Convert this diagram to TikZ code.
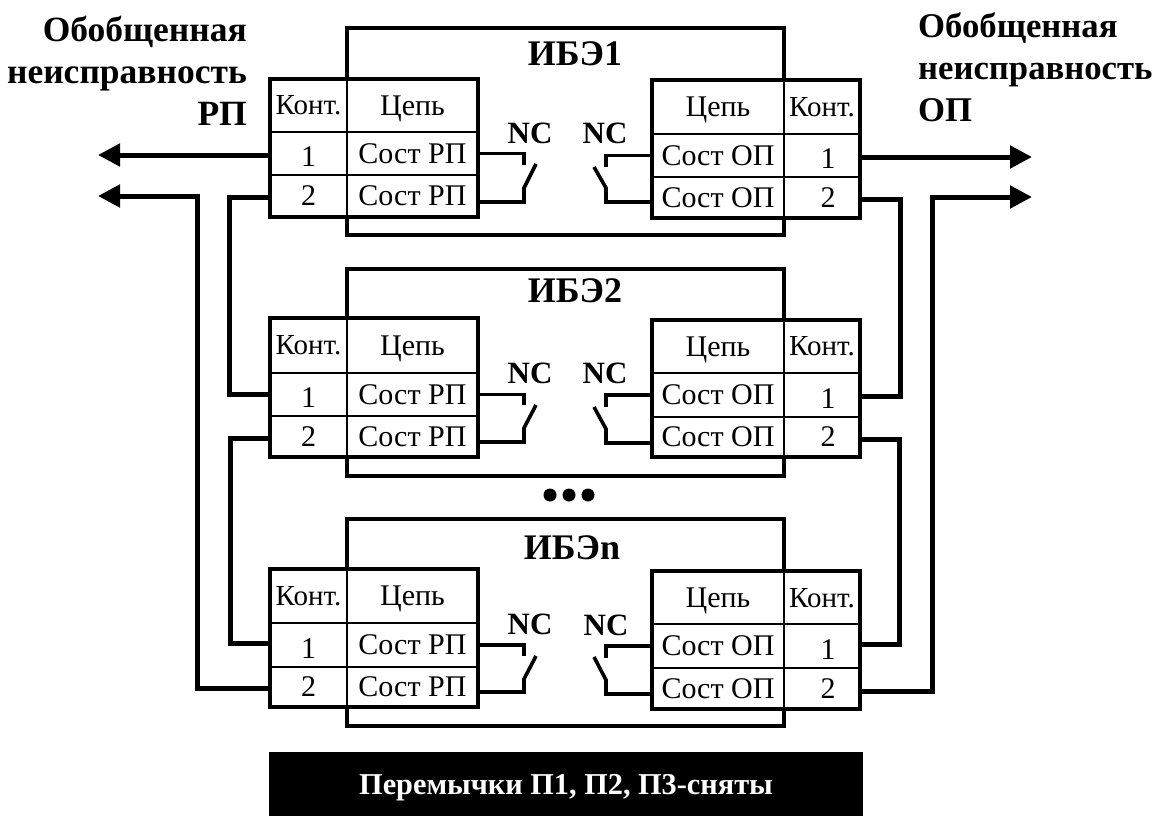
\documentclass[tikz,border=0pt]{standalone}
\usepackage{fontspec}
\setmainfont{Liberation Serif}
\usepackage{tikz}
\usetikzlibrary{arrows.meta}

\begin{document}
\begin{tikzpicture}
    [x=1pt,y=-1pt,font=\fontsize{30}{30}\selectfont,
    box/.style={shape=rectangle,draw=black,line width=4pt,minimum width=437pt,minimum height=207pt,inner sep=0pt},
    cell/.style={shape=rectangle,draw=black,fill=white,line width=2.8pt,inner sep=0pt,outer sep=0pt,text depth=0pt},
    kl/.style={cell,minimum width=77pt},
    cl/.style={cell,minimum width=131pt},
    kr/.style={cell,minimum width=76pt},
    cr/.style={cell,minimum width=132pt},
    kont/.style={font=\fontsize{29}{29}\selectfont},
    num/.style={text height=26pt},
    ttl/.style={font=\fontsize{36}{36}\selectfont\bfseries,inner sep=0pt},
    nc/.style={font=\fontsize{31}{31}\selectfont\bfseries,inner sep=0pt},
    capl/.style={font=\fontsize{35.5}{32}\selectfont\bfseries,inner sep=0pt},
    capr/.style={font=\fontsize{34.7}{32}\selectfont\bfseries,inner sep=0pt},
    tbl/.style={line width=4.4pt},
    sw/.style={line width=3.6pt},
    wire/.style={line width=5pt},
    arc/.style={wire,-{Triangle[length=22pt,width=22pt]}},
    dot/.style={shape=circle,fill=black,minimum size=13pt,inner sep=0pt}]

    \useasboundingbox (0,0) rectangle (1162,816);

    % first unit
    \node (ibe1) [box] at (565.5,131.5) {};
    \node (ttl1) [ttl] at (575,54) {ИБЭ1};
    \node (kl1h) [kl,kont,minimum height=53pt] at (308.5,105.5) {Конт.};
    \node (cl1h) [cl,minimum height=53pt] at (412.5,105.5) {Цепь};
    \node (kl1a) [kl,num,minimum height=43pt] at (308.5,153.5) {1};
    \node (cl1a) [cl,minimum height=43pt] at (412.5,153.5) {Сост РП};
    \node (kl1b) [kl,minimum height=42pt] at (308.5,196) {2};
    \node (cl1b) [cl,minimum height=42pt] at (412.5,196) {Сост РП};
    \node (cr1h) [cr,minimum height=54pt] at (718,107) {Цепь};
    \node (kr1h) [kr,kont,minimum height=54pt] at (822,107) {Конт.};
    \node (cr1a) [cr,minimum height=43pt] at (718,155.5) {Сост ОП};
    \node (kr1a) [kr,num,minimum height=43pt] at (822,155.5) {\hspace*{12pt}1};
    \node (cr1b) [cr,minimum height=41pt] at (718,197.5) {Сост ОП};
    \node (kr1b) [kr,minimum height=41pt] at (822,197.5) {\hspace*{12pt}2};
    \node (ncl1) [nc] at (530,133) {NC};
    \node (ncr1) [nc] at (605,133) {NC};

    % second unit
    \node (ibe2) [box] at (565.5,372) {};
    \node (ttl2) [ttl] at (575,291) {ИБЭ2};
    \node (kl2h) [kl,kont,minimum height=55pt] at (308.5,345.5) {Конт.};
    \node (cl2h) [cl,minimum height=55pt] at (412.5,345.5) {Цепь};
    \node (kl2a) [kl,num,minimum height=43pt] at (308.5,394.5) {1};
    \node (cl2a) [cl,minimum height=43pt] at (412.5,394.5) {Сост РП};
    \node (kl2b) [kl,minimum height=41pt] at (308.5,436.5) {2};
    \node (cl2b) [cl,minimum height=41pt] at (412.5,436.5) {Сост РП};
    \node (cr2h) [cr,minimum height=53pt] at (718,346.5) {Цепь};
    \node (kr2h) [kr,kont,minimum height=53pt] at (822,346.5) {Конт.};
    \node (cr2a) [cr,minimum height=44pt] at (718,395) {Сост ОП};
    \node (kr2a) [kr,num,minimum height=44pt] at (822,395) {\hspace*{12pt}1};
    \node (cr2b) [cr,minimum height=40pt] at (718,437) {Сост ОП};
    \node (kr2b) [kr,minimum height=40pt] at (822,437) {\hspace*{12pt}2};
    \node (ncl2) [nc] at (530,373) {NC};
    \node (ncr2) [nc] at (605,373) {NC};

    \node (dot1) [dot] at (550,495) {};
    \node (dot2) [dot] at (569,495) {};
    \node (dot3) [dot] at (588,495) {};

    % last unit
    \node (iben) [box] at (565.5,622.5) {};
    \node (ttln) [ttl] at (572,548) {ИБЭn};
    \node (klnh) [kl,kont,minimum height=54pt] at (308.5,596) {Конт.};
    \node (clnh) [cl,minimum height=54pt] at (412.5,596) {Цепь};
    \node (klna) [kl,num,minimum height=44pt] at (308.5,645) {1};
    \node (clna) [cl,minimum height=44pt] at (412.5,645) {Сост РП};
    \node (klnb) [kl,minimum height=40pt] at (308.5,687) {2};
    \node (clnb) [cl,minimum height=40pt] at (412.5,687) {Сост РП};
    \node (crnh) [cr,minimum height=53pt] at (718,597.5) {Цепь};
    \node (krnh) [kr,kont,minimum height=53pt] at (822,597.5) {Конт.};
    \node (crna) [cr,minimum height=44pt] at (718,646) {Сост ОП};
    \node (krna) [kr,num,minimum height=44pt] at (822,646) {\hspace*{12pt}1};
    \node (crnb) [cr,minimum height=41pt] at (718,688.5) {Сост ОП};
    \node (krnb) [kr,minimum height=41pt] at (822,688.5) {\hspace*{12pt}2};
    \node (ncln) [nc] at (530,624) {NC};
    \node (ncrn) [nc] at (606,625) {NC};

    % table frames
    \draw [tbl] (kl1h.north west) rectangle (cl1b.south east);
    \draw [tbl] (cr1h.north west) rectangle (kr1b.south east);
    \draw [tbl] (kl2h.north west) rectangle (cl2b.south east);
    \draw [tbl] (cr2h.north west) rectangle (kr2b.south east);
    \draw [tbl] (klnh.north west) rectangle (clnb.south east);
    \draw [tbl] (crnh.north west) rectangle (krnb.south east);

    % contacts
    \coordinate (s1a) at (524,165);
    \coordinate (s1t) at (536,164);
    \coordinate (s1b) at (524,188);
    \coordinate (r1a) at (606,167);
    \coordinate (r1t) at (594,167);
    \coordinate (r1b) at (606,188);
    \coordinate (s2a) at (524,405);
    \coordinate (s2t) at (536,405);
    \coordinate (s2b) at (524,428);
    \coordinate (r2a) at (606,407);
    \coordinate (r2t) at (594,407);
    \coordinate (r2b) at (606,429);
    \coordinate (sna) at (524,656);
    \coordinate (snt) at (536,656);
    \coordinate (snb) at (524,679);
    \coordinate (rna) at (606,658);
    \coordinate (rnt) at (594,657);
    \coordinate (rnb) at (606,680);

    \draw [sw] (cl1a.east) -| (s1a);
    \draw [sw] (s1t) -- (s1b) |- ([yshift=-6pt]cl1b.east);
    \draw [sw] (cr1a.west) -| (r1a);
    \draw [sw] (r1t) -- (r1b) |- ([yshift=-4.5pt]cr1b.west);
    \draw [sw] (cl2a.east) -| (s2a);
    \draw [sw] (s2t) -- (s2b) |- ([yshift=-5.5pt]cl2b.east);
    \draw [sw] (cr2a.west) -| (r2a);
    \draw [sw] (r2t) -- (r2b) |- ([yshift=-6pt]cr2b.west);
    \draw [sw] (clna.east) -| (sna);
    \draw [sw] (snt) -- (snb) |- ([yshift=-5pt]clnb.east);
    \draw [sw] (crna.west) -| (rna);
    \draw [sw] (rnt) -- (rnb) |- ([yshift=-5.5pt]crnb.west);

    % outputs
    \coordinate (arr1) at (98,155);
    \coordinate (arr2) at (98,196);
    \coordinate (arr3) at (1032,157);
    \coordinate (arr4) at (1032,197);

    \draw [arc] ([yshift=-1.5pt]kl1a.west) -- (arr1);
    \draw [arc] ([yshift=-1pt]klnb.west) -- ++(-73,0) |- (arr2);
    \draw [wire] ([yshift=-1pt]kl1b.west) -- ++(-41,0) |- (kl2a.west);
    \draw [wire] ([yshift=-1.5pt]kl2b.west) -- ++(-40,0) |- ([yshift=2pt]klna.west);
    \draw [arc] ([yshift=-1.5pt]kr1a.east) -- (arr3);
    \draw [arc] ([yshift=-2.5pt]krnb.east) -- ++(72,0) |- (arr4);
    \draw [wire] ([yshift=-1.5pt]kr1b.east) -- ++(40,0) |- ([yshift=-1pt]kr2a.east);
    \draw [wire] ([yshift=-2pt]kr2b.east) -- ++(39,0) |- ([yshift=2pt]krna.east);

    % captions
    \node (genl) [capl,align=right,anchor=east] at (247,71) {Обобщенная\\[10pt]неисправность\\[10pt]РП};
    \node (genr) [capr,align=left,anchor=west] at (918,67) {Обобщенная\\[10pt]неисправность\\[10pt]ОП};
    \node (note) [shape=rectangle,fill=black,text=white,minimum width=594pt,minimum height=64pt,inner sep=0pt,text depth=0pt,font=\fontsize{30.3}{30}\selectfont\bfseries] at (566,784) {Перемычки П1, П2, П3-сняты};
\end{tikzpicture}
\end{document}
